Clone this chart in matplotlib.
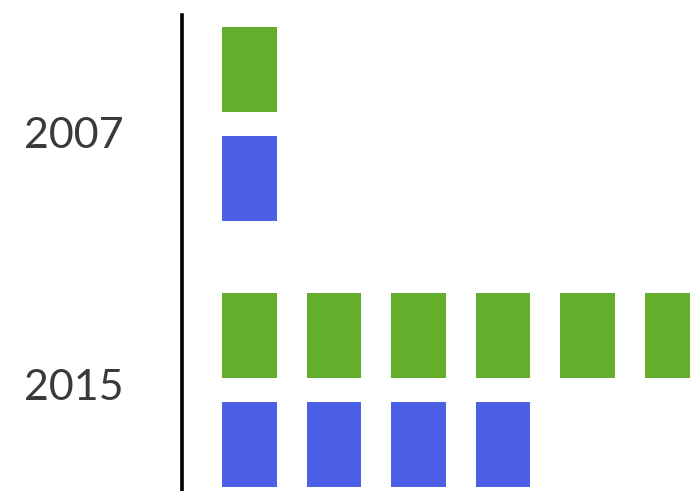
import numpy as np
import matplotlib
matplotlib.use("Agg")
import matplotlib.pyplot as plt
from matplotlib.transforms import ScaledTranslation

# Pictograph data: one square per unit
years = ['2007', '2015']
green_counts = [1, 6]
blue_counts = [1, 4]

green_col = '#63ae2b'
blue_col = '#4b60e4'

# Layout (square size / offsets in category units)
sq_width = 0.65
sq_height = 0.32
row_offset = 0.205

fig = plt.figure(figsize=(6.9, 4.91), dpi=100)
ax = fig.add_axes([181.5 / 690, 0, (690 - 181.5) / 690, (491 - 15) / 491])

for g, year in enumerate(years):
    xg = np.arange(green_counts[g])
    ax.bar(xg, sq_height, bottom=g - row_offset - sq_height / 2,
           width=sq_width, color=green_col, align='center')
    xb = np.arange(blue_counts[g])
    ax.bar(xb, sq_height, bottom=g + row_offset - sq_height / 2,
           width=sq_width, color=blue_col, align='center')

ax.set_xlim(-68 / 84.5, (508.5 - 68) / 84.5)
ax.set_ylim(1 + 101 / 266, -109 / 266)

ax.set_yticks(range(len(years)))
ax.set_yticklabels(years, fontsize=31, color='#3a3a3a', family='Lato')
ax.tick_params(axis='y', length=0, pad=42)
ax.set_xticks([])

# nudge labels a bit to sit like the original
shifts = [-0.08, 0.05]
for lab, dy in zip(ax.get_yticklabels(), shifts):
    lab.set_transform(lab.get_transform() + ScaledTranslation(0, dy, fig.dpi_scale_trans))

for s in ['top', 'right', 'bottom']:
    ax.spines[s].set_visible(False)
ax.spines['left'].set_linewidth(2.6)
ax.spines['left'].set_color('black')

fig.savefig('out.png', dpi=100)
